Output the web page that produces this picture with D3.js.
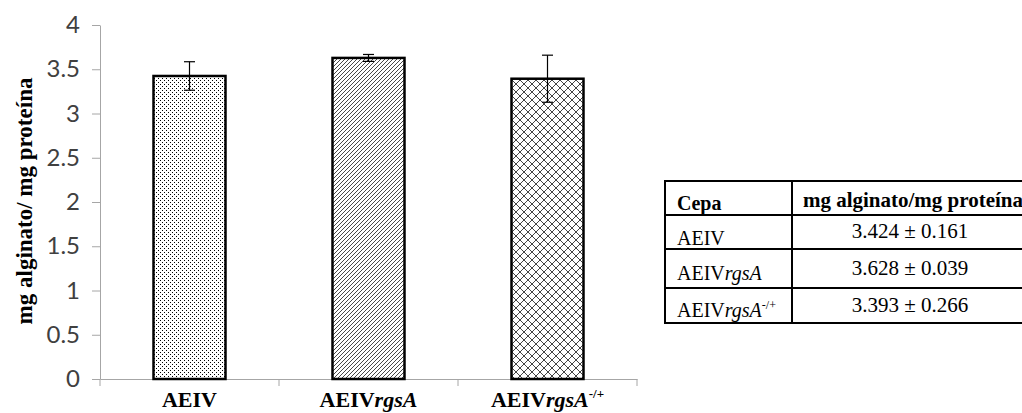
<!DOCTYPE html>
<html><head><meta charset="utf-8">
<script src="https://cdn.jsdelivr.net/npm/d3@7/dist/d3.min.js"></script>
</head>
<body style="margin:0;background:#fff">
<svg id="c" width="1022" height="413" style="display:block"></svg>
<script>
// ---- data ----
const categories = ["AEIV", "AEIVrgsA", "AEIVrgsA-/+"];
const means = [3.424, 3.628, 3.393];
const errors = [0.161, 0.039, 0.266];
const yTicks = [0, 0.5, 1, 1.5, 2, 2.5, 3, 3.5, 4];
const yTickLabels = ["0", "0.5", "1", "1.5", "2", "2.5", "3", "3.5", "4"];
const patterns = ["dots", "diag", "cross"];
const yTitle = "mg alginato/ mg proteína";
const tableHeader = ["Cepa", "mg alginato/mg proteína"];

const SERIF = "Liberation Serif";
const SANS = "Lato";

const svg = d3.select("#c");
const x = d3.scaleBand().domain(categories).range([100, 637]).paddingInner(0).paddingOuter(0);
const y = d3.scaleLinear().domain([0, 4]).range([379, 25]);
const barW = 72;

function txt(parent, fam, size, weight){
  return parent.append("text").style("font-family", fam).style("font-size", size + "px").style("font-weight", weight || "normal");
}

// patterns
const defs = svg.append("defs");
const p1 = defs.append("pattern").attr("id","dots").attr("patternUnits","userSpaceOnUse").attr("width",4).attr("height",4);
p1.append("rect").attr("width",4).attr("height",4).attr("fill","#fff");
p1.append("rect").attr("x",0).attr("y",0).attr("width",1).attr("height",1).attr("fill","#000");
p1.append("rect").attr("x",2).attr("y",2).attr("width",1).attr("height",1).attr("fill","#000");
const p2 = defs.append("pattern").attr("id","diag").attr("patternUnits","userSpaceOnUse").attr("width",4).attr("height",4);
p2.append("rect").attr("width",4).attr("height",4).attr("fill","#fff");
p2.append("path").attr("d","M-1,1 L1,-1 M0,4 L4,0 M3,5 L5,3").attr("stroke","#333").attr("stroke-width",0.9);
const p3 = defs.append("pattern").attr("id","cross").attr("patternUnits","userSpaceOnUse").attr("width",8).attr("height",8);
p3.append("rect").attr("width",8).attr("height",8).attr("fill","#fff");
p3.append("path").attr("d","M0,0 L8,8 M8,0 L0,8 M-1,7 L1,9 M7,-1 L9,1 M-1,1 L1,-1 M7,9 L9,7").attr("stroke","#444").attr("stroke-width",1);

// axes
const axisColor = "#a6a6a6";
const yAxis = svg.append("g").attr("transform","translate(100,0)")
  .call(d3.axisLeft(y).tickValues(yTicks).tickFormat((d,i)=>yTickLabels[i]).tickSizeInner(8).tickSizeOuter(0).tickPadding(12));
yAxis.select(".domain").attr("stroke",axisColor);
yAxis.selectAll(".tick line").attr("stroke",axisColor);
yAxis.selectAll(".tick text").style("font-family",SANS).style("font-size","24px").attr("fill","#404040");

const xAxis = svg.append("g").attr("transform","translate(0,379)")
  .call(d3.axisBottom(x).tickValues([]).tickSizeOuter(0));
xAxis.select(".domain").attr("stroke",axisColor);
const bounds = [x.range()[0]].concat(categories.map(c => x(c) + x.bandwidth()));
xAxis.selectAll("line.bt").data(bounds).enter().append("line").attr("class","bt")
  .attr("x1",d=>d).attr("x2",d=>d).attr("y1",0).attr("y2",7).attr("stroke",axisColor);

// bars
svg.selectAll("rect.bar").data(means).enter().append("rect").attr("class","bar")
  .attr("x",(d,i)=>x(categories[i]) + x.bandwidth()/2 - barW/2)
  .attr("y",d=>y(d)).attr("width",barW).attr("height",d=>y(0)-y(d))
  .attr("fill",(d,i)=>`url(#${patterns[i]})`).attr("stroke","#000").attr("stroke-width",2.5);

// error bars
const cx = i => x(categories[i]) + x.bandwidth()/2;
const eb = svg.selectAll("g.eb").data(means).enter().append("g").attr("class","eb");
eb.append("line").attr("x1",(d,i)=>cx(i)).attr("x2",(d,i)=>cx(i))
  .attr("y1",(d,i)=>y(d+errors[i])).attr("y2",(d,i)=>y(d-errors[i])).attr("stroke","#000").attr("stroke-width",1.2);
[1,-1].forEach(s=>{
  eb.append("line").attr("x1",(d,i)=>cx(i)-5.5).attr("x2",(d,i)=>cx(i)+5.5)
    .attr("y1",(d,i)=>y(d+s*errors[i])).attr("y2",(d,i)=>y(d+s*errors[i])).attr("stroke","#000").attr("stroke-width",1.2);
});

// category labels with mixed styles
function writeLabel(sel, name, size, supSize){
  const base = name.replace("-/+","");
  const hasSup = name.endsWith("-/+");
  const m = base.match(/^(AEIV)(.*)$/);
  sel.append("tspan").text(m[1]);
  if (m[2]) sel.append("tspan").style("font-style","italic").text(m[2]);
  if (hasSup) sel.append("tspan").style("font-size",supSize+"px").attr("dy",-size*0.42).text("-/+");
}
categories.forEach((c,i)=>{
  const t = txt(svg, SERIF, 22, "bold").attr("x",cx(i)).attr("y",407).attr("text-anchor","middle");
  writeLabel(t, c, 22, 13);
});

// y title
txt(svg, SERIF, 23, "bold").attr("transform","translate(32,201) rotate(-90)").attr("text-anchor","middle").text(yTitle);

// table
const tX = [665, 792, 1032];
const tY = [181, 215, 249, 288, 323];
const tg = svg.append("g");
tY.forEach(yy => tg.append("line").attr("x1",tX[0]-1).attr("x2",tX[2]).attr("y1",yy).attr("y2",yy).attr("stroke","#000").attr("stroke-width",2));
tX.forEach(xx => tg.append("line").attr("x1",xx).attr("x2",xx).attr("y1",tY[0]).attr("y2",tY[4]).attr("stroke","#000").attr("stroke-width",2));
txt(tg, SERIF, 20, "bold").attr("x",677).attr("y",210).text(tableHeader[0]);
txt(tg, SERIF, 21, "bold").attr("x",913).attr("y",207).attr("text-anchor","middle").text(tableHeader[1]);
const labBase = [245, 280, 317];
const valBase = [238, 275, 312];
categories.forEach((c,i)=>{
  const t = txt(tg, SERIF, 20).attr("x",677).attr("y",labBase[i]);
  writeLabel(t, c, 20, 12);
  txt(tg, SERIF, 21).attr("x",910).attr("y",valBase[i]).attr("text-anchor","middle")
    .text(`${d3.format(".3f")(means[i])} ± ${d3.format(".3f")(errors[i])}`);
});
</script>
</body></html>
